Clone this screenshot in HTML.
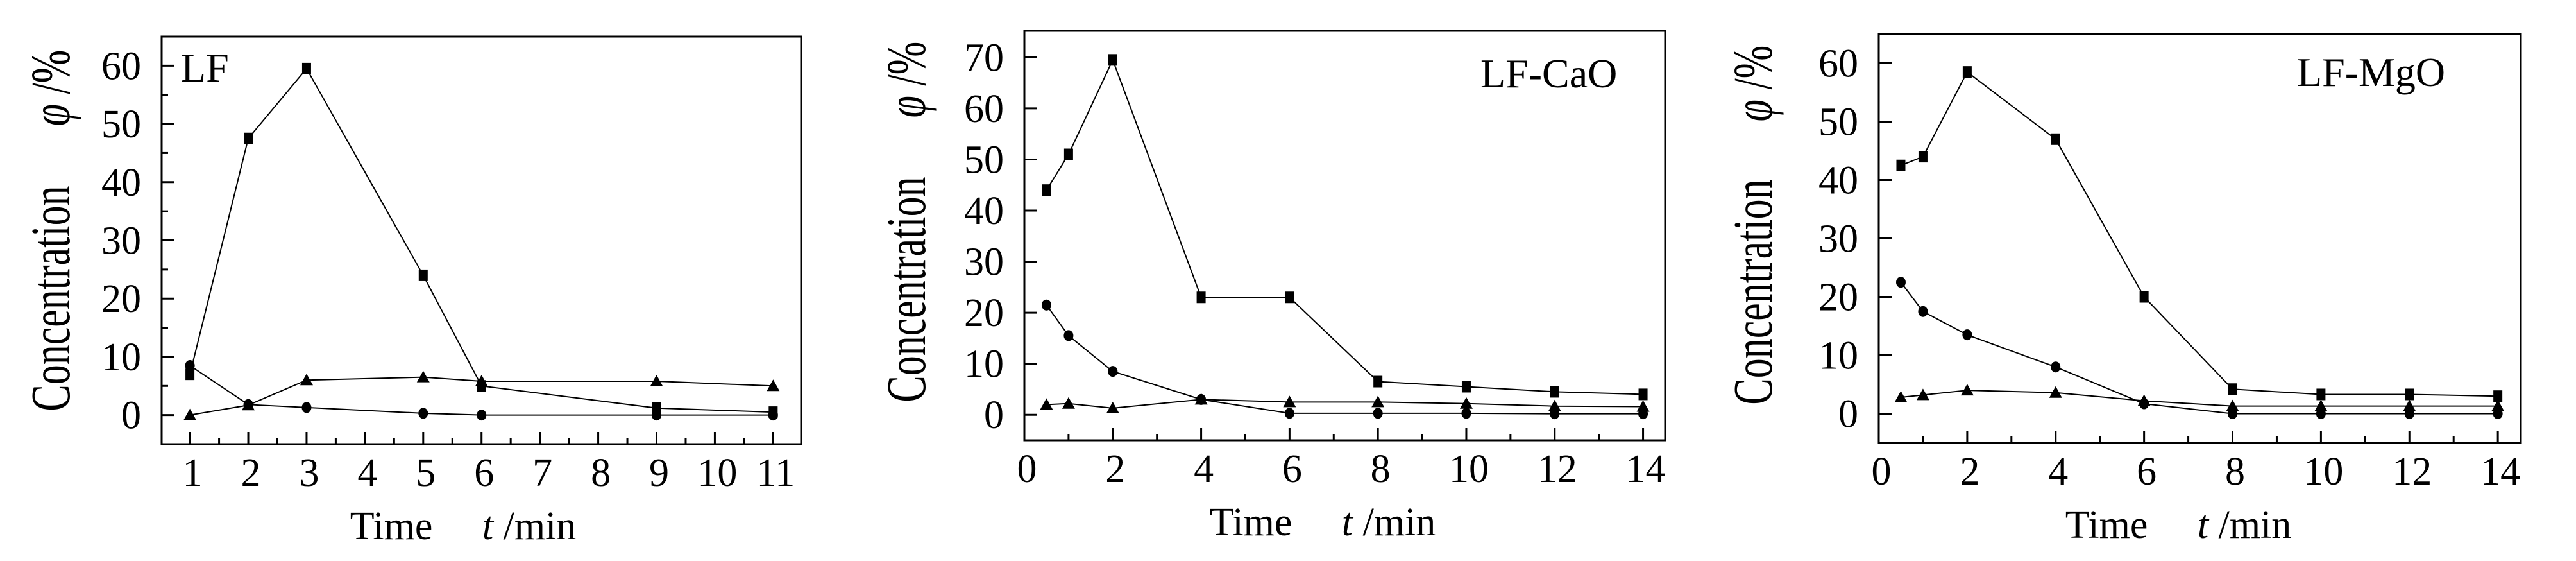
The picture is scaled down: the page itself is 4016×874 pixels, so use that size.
<!DOCTYPE html>
<html><head><meta charset="utf-8"><style>
html,body{margin:0;padding:0;background:#fff;}
svg{display:block;font-family:"Liberation Serif",serif;}
</style></head><body>
<svg id="chart" width="4016" height="874" viewBox="0 0 4016 874" xmlns="http://www.w3.org/2000/svg"></svg>
<script>
// Panel 1: LF
const p1X = [1, 2, 3, 5, 6, 9, 11];
const p1Square = [7, 47.5, 59.5, 24, 5, 1.2, 0.5];
const p1Circle = [8.5, 1.8, 1.3, 0.3, 0, 0, 0];
const p1Triangle = [0, 1.7, 6, 6.5, 5.8, 5.8, 5];
const p1XTicks = [1, 2, 3, 4, 5, 6, 7, 8, 9, 10, 11];
const p1YTicks = [0, 10, 20, 30, 40, 50, 60];
// Panel 2: LF-CaO
const p2X = [0.5, 1, 2, 4, 6, 8, 10, 12, 14];
const p2Square = [44, 51, 69.5, 23, 23, 6.5, 5.5, 4.5, 4];
const p2Circle = [21.5, 15.5, 8.5, 3, 0.3, 0.3, 0.3, 0.2, 0.2];
const p2Triangle = [2, 2.2, 1.3, 3, 2.5, 2.5, 2.2, 1.7, 1.6];
const p2XTicks = [0, 2, 4, 6, 8, 10, 12, 14];
const p2YTicks = [0, 10, 20, 30, 40, 50, 60, 70];
// Panel 3: LF-MgO
const p3X = [0.5, 1, 2, 4, 6, 8, 10, 12, 14];
const p3Square = [42.5, 44, 58.5, 47, 20, 4.2, 3.3, 3.3, 3];
const p3Circle = [22.5, 17.5, 13.5, 8, 1.7, 0, 0, 0, 0];
const p3Triangle = [2.8, 3.2, 4, 3.6, 2.2, 1.3, 1.3, 1.3, 1.3];
const p3XTicks = [0, 2, 4, 6, 8, 10, 12, 14];
const p3YTicks = [0, 10, 20, 30, 40, 50, 60];

const NS = "http://www.w3.org/2000/svg";
const svg = document.getElementById('chart');
function mk(tag, attrs, parent) {
  const e = document.createElementNS(NS, tag);
  for (const k in attrs) e.setAttribute(k, attrs[k]);
  (parent || svg).appendChild(e);
  return e;
}

function panel(cfg) {
  const g = mk('g', {});
  
  
  const sx = v => cfg.L + (v - cfg.xmin) / (cfg.xmax - cfg.xmin) * (cfg.R - cfg.L);
  const sy = v => cfg.B - (v - cfg.ymin) / (cfg.ymax - cfg.ymin) * (cfg.B - cfg.T);
  const box = mk('rect', {x: cfg.L, y: cfg.T, width: cfg.R - cfg.L, height: cfg.B - cfg.T, fill: 'none', stroke: '#000', 'stroke-width': 3}, g);
  
  
  cfg.yTicks.forEach(v => {
    const y = sy(v);
    const t = mk('line', {x1: cfg.L, x2: cfg.L + 20, y1: y, y2: y, stroke: '#000', 'stroke-width': 3}, g);
    
    
    const lb = mk('text', {x: cfg.L - 32, y: y + 21, 'text-anchor': 'end', 'font-size': 62}, g);
    lb.textContent = v;
    
    
    if (cfg.yMinor && v + 5 < cfg.ymax) {
      const m = mk('line', {x1: cfg.L, x2: cfg.L + 10, y1: sy(v + 5), y2: sy(v + 5), stroke: '#000', 'stroke-width': 3}, g);
      
      
    }
  });
  cfg.xTicks.forEach((v, i) => {
    const x = sx(v);
    const t = mk('line', {x1: x, x2: x, y1: cfg.B, y2: cfg.B - 19, stroke: '#000', 'stroke-width': 3}, g);
    
    
    const lb = mk('text', {x: x + 4, y: cfg.B + 65, 'text-anchor': 'middle', 'font-size': 62}, g);
    lb.textContent = v;
    
    
    if (i < cfg.xTicks.length - 1) {
      const mv = (v + cfg.xTicks[i + 1]) / 2;
      const m = mk('line', {x1: sx(mv), x2: sx(mv), y1: cfg.B, y2: cfg.B - 10, stroke: '#000', 'stroke-width': 3}, g);
      
      
    }
  });
  const xt = mk('text', {x: cfg.xTitleX, y: cfg.B + 148, 'text-anchor': 'middle', 'font-size': 62}, g);
  xt.innerHTML = 'Time&#160;&#160;&#160;&#160;&#160;<tspan font-style="italic">t</tspan> /min';
  
  
  const yt = mk('text', {x: 0, y: 0, 'text-anchor': 'middle', 'font-size': 62, transform: `translate(${cfg.yTitleX},${cfg.concY}) rotate(-90) scale(1,1.4)`}, g);
  yt.textContent = 'Concentration';
  
  
  const yu = mk('text', {x: 0, y: 0, 'text-anchor': 'middle', 'font-size': 62, transform: `translate(${cfg.yTitleX},${cfg.phiY}) rotate(-90) scale(1,1.4)`}, g);
  yu.innerHTML = '<tspan font-style="italic">φ</tspan> /%';
  
  
  const lab = mk('text', {x: cfg.labX, y: cfg.labY, 'font-size': 64}, g);
  lab.textContent = cfg.label;
  
  
  const series = [['square', cfg.sq], ['circle', cfg.ci], ['triangle', cfg.tr]];
  series.forEach(([kind, vals]) => {
    const pts = vals.map((v, i) => [sx(cfg.x[i]), sy(v)]);
    const pl = mk('polyline', {points: pts.map(p => p.join(',')).join(' '), fill: 'none', stroke: '#000', 'stroke-width': 2}, g);
    
    
    pts.forEach(([x, y]) => {
      let m;
      if (kind === 'square') m = mk('rect', {x: x - 7, y: y - 9, width: 14, height: 18, fill: '#000'}, g);
      else if (kind === 'circle') m = mk('ellipse', {cx: x, cy: y, rx: 7.5, ry: 8.5, fill: '#000'}, g);
      else m = mk('polygon', {points: `${x - 10},${y + 8} ${x + 10},${y + 8} ${x},${y - 10}`, fill: '#000'}, g);
      
      
    });
  });
}

panel({name: 'panel-lf', L: 252, R: 1249, T: 57, B: 692, xmin: 0.515, xmax: 11.48, ymin: -5, ymax: 65,
  x: p1X, sq: p1Square, ci: p1Circle, tr: p1Triangle, xTicks: p1XTicks, yTicks: p1YTicks, yMinor: true,
  xTitleX: 722, yTitleX: 108, concY: 465, phiY: 137, label: 'LF', labX: 282, labY: 127});
panel({name: 'panel-lf-cao', L: 1597, R: 2596, T: 48, B: 686, xmin: 0, xmax: 14.5, ymin: -5, ymax: 75.2,
  x: p2X, sq: p2Square, ci: p2Circle, tr: p2Triangle, xTicks: p2XTicks, yTicks: p2YTicks, yMinor: false,
  xTitleX: 2062, yTitleX: 1442, concY: 451, phiY: 124, label: 'LF-CaO', labX: 2308, labY: 136});
panel({name: 'panel-lf-mgo', L: 2929, R: 3930, T: 53, B: 690, xmin: 0, xmax: 14.52, ymin: -5, ymax: 65,
  x: p3X, sq: p3Square, ci: p3Circle, tr: p3Triangle, xTicks: p3XTicks, yTicks: p3YTicks, yMinor: false,
  xTitleX: 3396, yTitleX: 2762, concY: 455, phiY: 130, label: 'LF-MgO', labX: 3581, labY: 134});
</script>
</body></html>
